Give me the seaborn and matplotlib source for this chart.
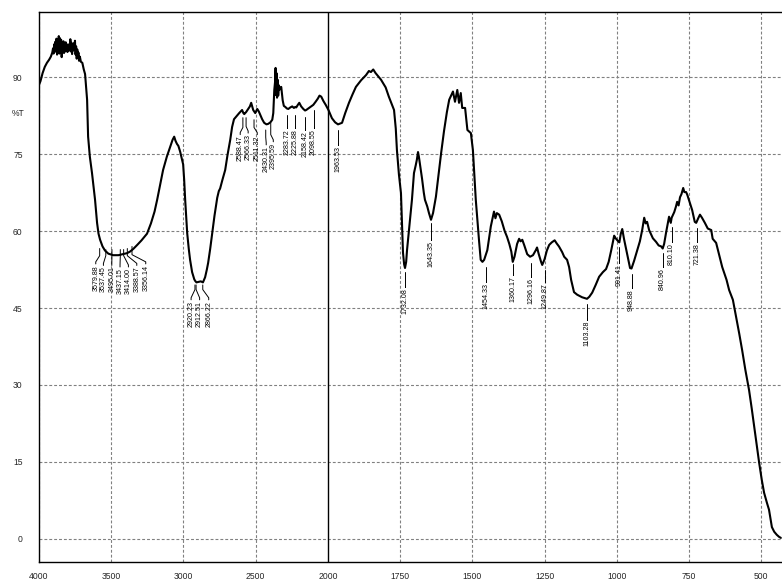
import numpy as np
import pandas as pd
import matplotlib
matplotlib.use("Agg")
import matplotlib.pyplot as plt
from matplotlib import font_manager as fm
from matplotlib.ticker import FixedLocator, NullFormatter
import seaborn as sns

# ---------------- data ----------------
wavenumber = [
    4000, 3990, 3975, 3960, 3945, 3930, 3918, 3908,
    3903, 3899, 3895, 3891, 3887, 3883, 3879, 3875, 3871, 3867, 3863, 3859,
    3855, 3851, 3847, 3843, 3839, 3835, 3831, 3827, 3823, 3819, 3815, 3811,
    3807, 3803, 3799, 3795, 3791, 3787, 3783, 3779, 3775, 3771, 3767, 3763,
    3759, 3755, 3751, 3747, 3743, 3739, 3735, 3731, 3727, 3723, 3717, 3710,
    3700, 3690, 3681, 3672, 3667, 3660, 3648, 3633, 3622, 3612, 3598, 3588,
    3577, 3560, 3543, 3520, 3487, 3450, 3420, 3390, 3370, 3348, 3320, 3290,
    3252, 3225, 3200, 3182, 3160, 3141, 3115, 3092, 3075, 3064, 3055, 3045,
    3035, 3023, 3010, 3002, 2995, 2988, 2974, 2963, 2954, 2940, 2925, 2919,
    2910, 2895, 2880, 2865, 2850, 2838, 2829, 2815, 2801, 2785, 2766, 2755,
    2746, 2730, 2711, 2695, 2676, 2663, 2650, 2635, 2614, 2594, 2585, 2579,
    2566, 2552, 2540, 2531, 2517, 2503, 2489, 2478, 2469, 2455, 2441, 2425,
    2413, 2398, 2385, 2378, 2371, 2366, 2362, 2359, 2356, 2352, 2348, 2344,
    2339, 2333, 2323, 2313, 2305, 2295, 2284, 2274, 2260, 2247, 2235, 2226,
    2219, 2208, 2198, 2185, 2170, 2158, 2150, 2135, 2120, 2101, 2085, 2070,
    2058, 2046, 2030, 2015, 1998, 1986, 1975, 1965, 1951, 1940, 1927, 1915,
    1903, 1885, 1868, 1858, 1851, 1843, 1835, 1826, 1816, 1800, 1789, 1771,
    1765, 1761, 1754, 1747, 1743, 1740, 1736, 1733, 1729, 1726, 1718, 1709,
    1702, 1696, 1692, 1688, 1685, 1680, 1674, 1668, 1664, 1656, 1650, 1643,
    1636, 1626, 1617, 1608, 1598, 1588, 1580, 1567, 1560, 1552, 1546, 1540,
    1535, 1525, 1517, 1505, 1498, 1488, 1477, 1471, 1465, 1459, 1448, 1436,
    1425, 1420, 1415, 1407, 1398, 1388, 1380, 1372, 1365, 1360, 1354, 1345,
    1338, 1333, 1327, 1320, 1310, 1300, 1290, 1280, 1276, 1270, 1262, 1258,
    1250, 1242, 1234, 1225, 1215, 1208, 1200, 1189, 1182, 1172, 1165, 1158,
    1148, 1137, 1120, 1103, 1095, 1085, 1073, 1061, 1048, 1037, 1028, 1019,
    1009, 1004, 995, 991, 986, 981, 975, 967, 960, 954, 949, 940,
    929, 920, 912, 905, 900, 895, 888, 875, 864, 855, 846, 841,
    836, 829, 819, 813, 810, 801, 795, 791, 786, 781, 776, 770,
    766, 760, 756, 747, 739, 730, 725, 718, 712, 705, 695, 685,
    673, 668, 656, 645, 635, 620, 611, 598, 587, 576, 566, 555,
    542, 533, 524, 515, 507, 498, 490, 480, 473, 467, 463, 455,
    446, 438, 432,
]
transmittance = [
    88.5, 89.2, 90.8, 92.0, 92.8, 93.4, 94.0, 94.8,
    95.6, 94.6, 96.4, 94.9, 96.9, 95.1, 97.5, 94.4, 97.0, 95.3, 98.0, 94.6,
    97.6, 95.0, 97.3, 93.9, 96.5, 95.2, 97.0, 94.7, 96.3, 95.0, 96.8, 95.3,
    96.1, 94.9, 96.4, 95.1, 96.1, 95.6, 97.4, 95.0, 96.7, 94.5, 96.1, 95.2,
    96.6, 95.6, 97.1, 94.4, 96.0, 93.6, 95.4, 93.9, 94.8, 93.2, 94.0, 93.0,
    92.8, 91.5, 90.6, 87.5, 85.6, 78.4, 74.5, 71.3, 68.6, 66.1, 61.6, 59.5,
    58.3, 57.0, 56.2, 55.6, 55.3, 55.3, 55.5, 55.7, 56.0, 56.5, 57.3, 58.2,
    59.5, 61.5, 63.8, 66.1, 69.2, 71.9, 74.5, 76.4, 77.8, 78.4, 77.6, 77.0,
    76.6, 75.5, 74.0, 73.0, 70.0, 66.1, 59.6, 56.5, 54.4, 52.0, 50.6, 50.3,
    50.0, 50.1, 50.2, 50.0, 51.0, 52.5, 53.8, 56.5, 59.6, 63.0, 66.5, 67.8,
    68.3, 70.0, 71.9, 74.8, 77.8, 80.3, 81.8, 82.3, 83.0, 83.6, 83.0, 82.8,
    83.2, 83.8, 84.3, 85.0, 83.6, 83.0, 83.8, 83.3, 82.7, 81.8, 81.1, 80.8,
    80.9, 81.2, 81.7, 83.0, 87.5, 89.0, 91.8, 86.5, 90.8, 86.0, 89.5, 86.4,
    88.4, 87.6, 88.1, 85.5, 84.4, 84.2, 83.9, 83.8, 84.1, 84.3, 84.0, 84.2,
    84.1, 84.6, 85.0, 84.3, 83.8, 83.5, 83.6, 83.9, 84.2, 84.6, 85.2, 85.8,
    86.4, 86.2, 85.3, 84.6, 83.6, 82.0, 81.2, 80.8, 81.1, 83.0, 85.0, 86.6,
    88.1, 89.4, 90.4, 91.2, 91.0, 91.5, 90.8, 90.2, 89.5, 88.0, 86.2, 83.6,
    80.0, 75.8, 71.0, 67.4, 61.0, 55.8, 53.5, 52.8, 54.0, 56.3, 61.0, 66.1,
    71.3, 72.8, 73.9, 75.4, 74.5, 72.5, 70.2, 67.5, 66.1, 64.8, 63.5, 62.2,
    63.5, 66.7, 71.0, 75.2, 79.5, 83.2, 85.6, 87.2, 85.2, 87.5, 85.0, 86.9,
    84.0, 84.0, 79.7, 79.1, 75.8, 66.1, 58.3, 54.4, 54.0, 54.4, 56.3, 60.9,
    63.8, 62.5, 63.5, 63.2, 61.9, 60.0, 58.9, 57.5, 56.0, 54.0, 55.0, 57.5,
    58.5, 58.0, 58.3, 57.2, 55.5, 55.0, 55.3, 56.3, 56.8, 55.5, 54.0, 53.4,
    54.5, 56.2, 57.3, 57.8, 58.2, 57.6, 57.0, 55.9, 55.0, 54.4, 53.0, 50.5,
    48.1, 47.6, 47.1, 46.8, 47.2, 48.0, 49.5, 51.1, 52.0, 52.6, 54.0, 56.3,
    59.1, 58.6, 58.0, 57.8, 59.5, 60.4, 58.5, 56.3, 54.3, 52.8, 52.7, 54.2,
    56.3, 58.0, 60.2, 62.6, 61.5, 61.8, 60.2, 58.6, 57.9, 57.2, 57.0, 56.6,
    57.5, 59.8, 62.8, 61.6, 62.6, 63.7, 64.8, 65.7, 65.0, 66.6, 67.2, 68.4,
    67.6, 67.6, 67.1, 65.5, 64.1, 61.8, 61.6, 62.5, 63.2, 62.6, 61.6, 60.5,
    60.2, 58.5, 57.7, 55.2, 53.0, 50.5, 48.5, 46.6, 43.3, 40.0, 36.8, 33.0,
    29.0, 25.5, 21.8, 18.0, 14.8, 11.5, 9.0, 7.0, 5.7, 3.6, 2.3, 1.4,
    0.8, 0.4, 0.2,
]

peak_labels = ["3579.88", "3537.45", "3495.01", "3437.15", "3414.00", "3388.57", "3356.14",
               "2920.23", "2912.51", "2866.22",
               "2588.47", "2566.33", "2511.32", "2430.31", "2395.59",
               "2283.72", "2225.88", "2158.42", "2098.55", "1963.53",
               "1732.08", "1643.35", "1454.33", "1360.17", "1296.16", "1249.87",
               "1103.28", "991.41", "948.88", "840.96", "810.10", "721.38"]
peak_wn = [float(s) for s in peak_labels]

x_major = [4000, 3500, 3000, 2500, 2000, 1750, 1500, 1250, 1000, 750, 500]
y_major = [0, 15, 30, 45, 60, 75, 90]

# annotation layout (label x, line start, bend, text top)
label_x = [3607, 3554, 3496, 3439, 3381, 3323, 3261,
           2947, 2888, 2825,
           2607, 2552, 2489, 2427, 2378,
           2283.72, 2225.88, 2158.42, 2098.55, 1963.53,
           1732.08, 1643.35, 1454.33, 1360.17, 1296.16, 1249.87,
           1103.28, 991.41, 948.88, 840.96, 810.10, 721.38]
line_start = [56.6, 56.4, 56.4, 56.4, 56.4, 56.6, 57.0,
              49.5, 49.5, 49.5,
              82.1, 82.1, 81.7, 79.7, 81.1,
              82.6, 82.6, 82.3, 83.6, 79.7,
              52.0, 61.6, 53.0, 53.6, 53.8, 52.4,
              45.8, 56.9, 51.7, 55.8, 60.8, 60.6]
line_bend = [55.2, 55.2, 55.2, 55.2, 55.2, 55.2, 55.4,
             48.6, 48.6, 48.6,
             80.2, 80.4, 80.2, 78.3, 78.8,
             80.1, 80.1, 79.7, 80.1, 76.8,
             49.1, 58.3, 50.1, 51.5, 51.1, 50.1,
             42.7, 53.8, 48.9, 53.0, 57.9, 57.9]
text_top = [53.6, 53.3, 53.3, 53.0, 53.0, 53.3, 53.6,
            46.6, 46.6, 46.6,
            78.8, 79.1, 78.8, 76.8, 77.4,
            80.1, 80.1, 79.7, 80.1, 76.8,
            49.1, 58.3, 50.1, 51.5, 51.1, 50.1,
            42.7, 53.8, 48.9, 53.0, 57.9, 57.9]

# ---------------- style ----------------
sns.set_style("white")
names = {f.name for f in fm.fontManager.ttflist}
if "Liberation Sans Narrow" in names:
    fam = ["Liberation Sans Narrow", "DejaVu Sans"]
    tick_fs, lab_fs = 7.6, 6.2
else:
    fam = ["Liberation Sans", "DejaVu Sans"]
    tick_fs, lab_fs = 6.2, 5.1
plt.rcParams["font.family"] = fam

fig = plt.figure(figsize=(7.82, 5.86), dpi=100)
W, H = 782, 586
ax = fig.add_axes([39 / W, (H - 562) / H, (782 - 39) / W, (562 - 12) / H])


def fwd(x):
    x = np.asarray(x, dtype=float)
    return np.where(x >= 2000, x, 2000 - (2000 - x) * 2.0)


def inv(u):
    u = np.asarray(u, dtype=float)
    return np.where(u >= 2000, u, 2000 - (2000 - u) / 2.0)


ax.set_xscale("function", functions=(fwd, inv))

df = pd.DataFrame({"wn": wavenumber, "T": transmittance})

# grid
grid_kw = dict(color="#808080", lw=0.8, ls=(0, (2.6, 1.8)), zorder=0)
for xv in x_major:
    if xv != 2000:
        ax.axvline(xv, **grid_kw)
for yv in y_major:
    ax.axhline(yv, **grid_kw)
ax.axvline(2000, color="black", lw=1.0, zorder=1)

sns.lineplot(data=df, x="wn", y="T", sort=False, estimator=None,
             color="black", lw=1.5, ax=ax, zorder=3)

# peak annotations
for s, pw, lx, ls_, lb, tt in zip(peak_labels, peak_wn, label_x, line_start, line_bend, text_top):
    ax.plot([pw, pw, lx, lx], [ls_, lb, tt + 0.4, tt], color="black", lw=0.7, zorder=4)
    ax.text(lx, tt - 0.2, s, rotation=90, ha="center", va="top",
            fontsize=lab_fs, color="black", zorder=5)

ax.set_xlim(4000, 428)
ax.set_ylim(-4.5, 102.7)

ax.xaxis.set_major_locator(FixedLocator(x_major))
minor_x = [v for v in list(range(3900, 2000, -100)) + list(range(1950, 425, -50)) if v not in x_major]
ax.xaxis.set_minor_locator(FixedLocator(minor_x))
ax.set_xticklabels([str(v) for v in x_major])
ax.xaxis.set_minor_formatter(NullFormatter())

ax.yaxis.set_major_locator(FixedLocator(y_major))
ax.yaxis.set_minor_locator(FixedLocator([v for v in range(-3, 103, 3) if v not in y_major]))
ax.set_yticklabels([str(v) for v in y_major])

ax.tick_params(axis="x", which="both", direction="out", length=3.2, width=0.8,
               labelsize=tick_fs, pad=4, color="black")
ax.tick_params(axis="y", which="both", direction="out", length=3.8, width=0.8,
               labelsize=tick_fs, pad=8, color="black")

for side in ["left", "bottom", "top"]:
    ax.spines[side].set_visible(True)
    ax.spines[side].set_color("black")
    ax.spines[side].set_linewidth(1.0)
ax.spines["right"].set_visible(False)

ax.set_xlabel("")
ax.set_ylabel("")
fig.text(12 / W, 1 - 113 / H, "%T", fontsize=tick_fs, ha="left", va="center")

fig.savefig("out.png", dpi=100)
